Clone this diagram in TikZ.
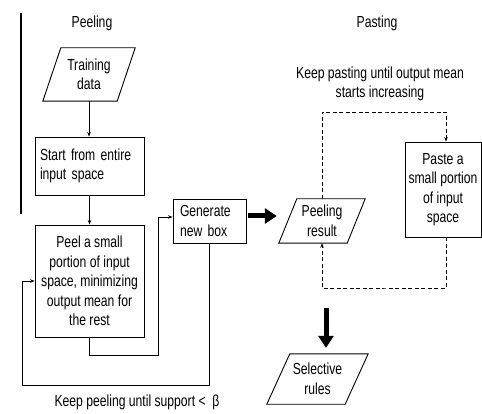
\documentclass[tikz,border=0pt]{standalone}
\usepackage{fontspec}
\setmainfont{Liberation Sans}[FakeStretch=0.76]
\usetikzlibrary{arrows.meta,calc}
\begin{document}
\begin{tikzpicture}[x=1pt,y=-1pt,
  font=\fontsize{16}{19.5}\selectfont,
  box/.style={draw,line width=0.9pt,inner sep=0pt,align=center},
  plain/.style={inner sep=0pt,align=center},
  arr/.style={line width=0.8pt,-{Stealth[length=4.5pt,width=3.5pt]}},
  ln/.style={line width=0.9pt},
  dsh/.style={line width=0.8pt,dash pattern=on 4pt off 2.5pt},
  big/.style={line width=5pt,-{Triangle[length=12pt,width=15pt]}}]
\useasboundingbox (0,0) rectangle (482,414);

% left rule
\draw[line width=1.2pt] (21,13) -- (21,214);

% titles
\node[plain] (tpeel) at (92,23) {Peeling};
\node[plain] (tpaste) at (377,23) {Pasting};
\node[plain] (tkp) at (380,84) {Keep pasting until output mean\\starts increasing};
\node[plain] (tkpe) at (137,402) {Keep peeling until support <\ \ β};

% parallelograms
\node[plain,minimum width=92pt,minimum height=53pt] (train) at (89,74.5) {Training\\data};
\draw[ln] ([xshift=18pt]train.north west) -- (train.north east) -- ([xshift=-18pt]train.south east) -- (train.south west) -- cycle;
\node[plain,minimum width=86pt,minimum height=44pt] (pres) at (322,221) {Peeling\\result};
\draw[ln] ([xshift=18pt]pres.north west) -- (pres.north east) -- ([xshift=-18pt]pres.south east) -- (pres.south west) -- cycle;
\node[plain,minimum width=101pt,minimum height=50pt] (sel) at (317.5,379) {Selective\\rules};
\draw[ln] ([xshift=23pt]sel.north west) -- (sel.north east) -- ([xshift=-23pt]sel.south east) -- (sel.south west) -- cycle;

% boxes
\node[box,minimum width=109pt,minimum height=58pt,text width=99pt,align=left] (start) at (89.5,166) {Start from entire\\input space};
\node[box,minimum width=109pt,minimum height=112pt] (peel) at (89.5,281) {Peel a small\\portion of input\\space, minimizing\\output mean for\\the rest};
\node[box,minimum width=73pt,minimum height=44pt,text width=59pt,align=left] (gen) at (209.5,221) {Generate\\new box};
\node[box,minimum width=76pt,minimum height=95pt] (paste) at (443,189.5) {Paste a\\small portion\\of input\\space};

% connectors
\draw[arr] (train.south) -- (train.south |- start.north);
\draw[arr] (start.south) -- (peel.north);
\coordinate (k1) at (158,355);
\draw[arr] (peel.south) |- (k1) |- ([yshift=4pt]gen.west);
\coordinate (k2) at (22,385);
\draw[arr] (gen.south) |- (k2) |- (peel.west);

\draw[big] ([xshift=2pt,yshift=5pt]gen.east) -- ([xshift=-2pt,yshift=5pt]pres.west);
\coordinate (b1) at (326,308);
\draw[big,shorten >=6pt] (b1) -- (b1 |- sel.north);

\coordinate (d1) at (385,112);
\draw[dsh,-{Stealth[length=4.5pt,width=3.5pt]}] (pres.north) |- (d1) -| ([xshift=3pt]paste.north);
\coordinate (d2) at (385,288);
\draw[dsh,-{Stealth[length=4.5pt,width=3.5pt]}] ([xshift=3pt]paste.south) |- (d2) -| (pres.south);
\end{tikzpicture}
\end{document}
